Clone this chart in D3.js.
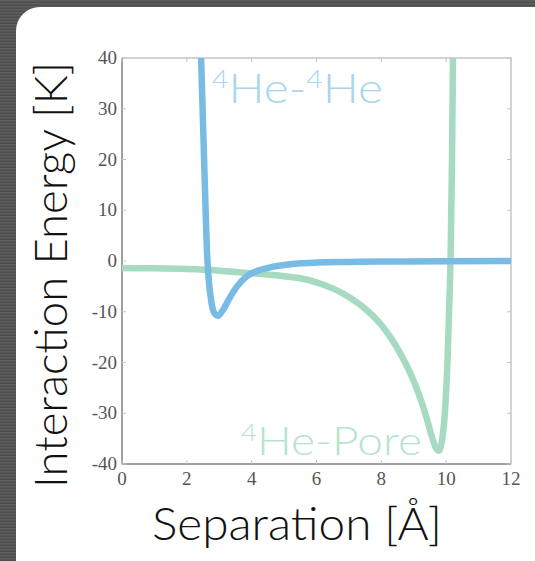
<!DOCTYPE html>
<html>
<head>
<meta charset="utf-8">
<script src="https://cdn.jsdelivr.net/npm/d3@7"></script>
<style>
  html, body { margin: 0; padding: 0; background: #fff; }
  svg { display: block; }
</style>
</head>
<body>
<div class="chart"></div>
<script>
// data: [separation Å, energy K]
const heHe = [[2.44,40],[2.5,27],[2.56,14],[2.62,2],[2.68,-4],[2.76,-8.2],[2.86,-10.4],[2.96,-10.8],
  [3.1,-9.8],[3.3,-7.5],[3.55,-5.0],[3.85,-3.0],[4.2,-1.9],[4.6,-1.2],[5,-0.8],[5.5,-0.45],
  [6,-0.3],[7,-0.18],[8,-0.1],[10,-0.05],[12,0]];
const hePore = [[0,-1.4],[1,-1.45],[2,-1.6],[3,-1.9],[4,-2.4],[5,-3.0],[5.5,-3.4],[6,-4.2],
  [6.5,-5.4],[7,-7.1],[7.5,-9.4],[8,-12.6],[8.3,-15.2],[8.6,-18.4],[8.9,-22.2],[9.2,-27],
  [9.4,-31],[9.55,-34.4],[9.68,-36.8],[9.77,-37.4],[9.88,-35],[9.98,-28],[10.05,-18],[10.1,-8],
  [10.14,2],[10.18,20],[10.21,40]];
const xTicks = [0,2,4,6,8,10,12];
const yTicks = [40,30,20,10,0,-10,-20,-30,-40];

const width = 535, height = 561;
const svg = d3.select('.chart').append('svg')
  .attr('width', width).attr('height', height);

// dark striped frame behind the rounded panel
const defs = svg.append('defs');
const pat = defs.append('pattern').attr('id','stripes')
  .attr('width', 4).attr('height', 3).attr('patternUnits','userSpaceOnUse');
pat.append('rect').attr('width',4).attr('height',3).attr('fill','#4d4d4d');
pat.append('rect').attr('width',4).attr('height',1.5).attr('fill','#5e5e5e');
svg.append('rect').attr('width', width).attr('height', height).attr('fill','url(#stripes)');
svg.append('rect').attr('x',16).attr('y',7).attr('width', width + 40).attr('height', height + 40)
  .attr('rx', 24).attr('fill','#fff');

const x = d3.scaleLinear().domain([0,12]).range([122,511]);
const y = d3.scaleLinear().domain([-40,40]).range([464,58]);

defs.append('clipPath').attr('id','plot').append('rect')
  .attr('x', 122).attr('y', 58).attr('width', 389).attr('height', 406);

// frame
svg.append('rect').attr('x',122).attr('y',58).attr('width',389).attr('height',406)
  .attr('fill','none').attr('stroke','#a8a8a8').attr('stroke-width',1);
svg.append('line').attr('x1',122).attr('x2',122).attr('y1',58).attr('y2',464)
  .attr('stroke','#8a9090').attr('stroke-width',1.5);
svg.append('line').attr('x1',122).attr('x2',511).attr('y1',464).attr('y2',464)
  .attr('stroke','#8a9090').attr('stroke-width',1.5);

// inner ticks on all sides
const tickCol = '#c4c4c4';
svg.selectAll('line.xt').data(xTicks).enter().append('line')
  .attr('x1', d => x(d)).attr('x2', d => x(d)).attr('y1', 464).attr('y2', 460)
  .attr('stroke', tickCol);
svg.selectAll('line.xt2').data(xTicks).enter().append('line')
  .attr('x1', d => x(d)).attr('x2', d => x(d)).attr('y1', 58).attr('y2', 62)
  .attr('stroke', tickCol);
svg.selectAll('line.yt').data(yTicks).enter().append('line')
  .attr('x1', 122).attr('x2', 126).attr('y1', d => y(d)).attr('y2', d => y(d))
  .attr('stroke', tickCol);
svg.selectAll('line.yt2').data(yTicks).enter().append('line')
  .attr('x1', 511).attr('x2', 507).attr('y1', d => y(d)).attr('y2', d => y(d))
  .attr('stroke', tickCol);

// tick labels
svg.selectAll('text.xl').data(xTicks).enter().append('text')
  .attr('x', d => x(d)).attr('y', 485)
  .text(d => d)
  .attr('font-family','"Liberation Serif", "DejaVu Serif", serif')
  .attr('font-size','19px').attr('text-anchor','middle').attr('fill','#555');
svg.selectAll('text.yl').data(yTicks).enter().append('text')
  .attr('x', 117).attr('y', d => y(d) + 6)
  .text(d => d < 0 ? '-' + Math.abs(d) : d)
  .attr('font-family','"Liberation Serif", "DejaVu Serif", serif')
  .attr('font-size','19px').attr('text-anchor','end').attr('fill','#555');

// curves
const line = d3.line().x(d => x(d[0])).y(d => y(d[1])).curve(d3.curveMonotoneX);
const g = svg.append('g').attr('clip-path','url(#plot)');
g.append('path').datum(hePore).attr('d', line)
  .attr('fill','none').attr('stroke','#a7dbc1').attr('stroke-width',6.5)
  .attr('stroke-linejoin','round').attr('stroke-linecap','round');
g.append('path').datum(heHe).attr('d', line)
  .attr('fill','none').attr('stroke','#78bce6').attr('stroke-width',6.5)
  .attr('stroke-linejoin','round').attr('stroke-linecap','round');

// series labels
const font = 'Lato, "Open Sans", sans-serif';
const l1 = svg.append('text').attr('x', 212).attr('y', 103)
  .attr('font-family', font).attr('font-weight', 300).attr('font-size','42px').attr('fill','#a9d5f0')
  .attr('textLength', 171).attr('lengthAdjust','spacingAndGlyphs');
l1.append('tspan').attr('font-size','25px').attr('dy',-15).text('4');
l1.append('tspan').attr('dy',15).text('He-');
l1.append('tspan').attr('font-size','25px').attr('dy',-15).text('4');
l1.append('tspan').attr('dy',15).text('He');

const l2 = svg.append('text').attr('x', 241).attr('y', 455)
  .attr('font-family', font).attr('font-weight', 300).attr('font-size','40px').attr('fill','#b6e4cc')
  .attr('textLength', 181).attr('lengthAdjust','spacingAndGlyphs');
l2.append('tspan').attr('font-size','24px').attr('dy',-14).text('4');
l2.append('tspan').attr('dy',14).text('He-Pore');

// axis titles
svg.append('text').attr('x', 297).attr('y', 540)
  .text('Separation [Å]')
  .attr('font-family', font).attr('font-weight', 300).attr('font-size','45px')
  .attr('text-anchor','middle').attr('fill','#111')
  .attr('textLength', 290).attr('lengthAdjust','spacingAndGlyphs');
svg.append('text').attr('transform','translate(67,275) rotate(-90)')
  .text('Interaction Energy [K]')
  .attr('font-family', font).attr('font-weight', 300).attr('font-size','45px')
  .attr('text-anchor','middle').attr('fill','#111')
  .attr('textLength', 426).attr('lengthAdjust','spacingAndGlyphs');
</script>
</body>
</html>
